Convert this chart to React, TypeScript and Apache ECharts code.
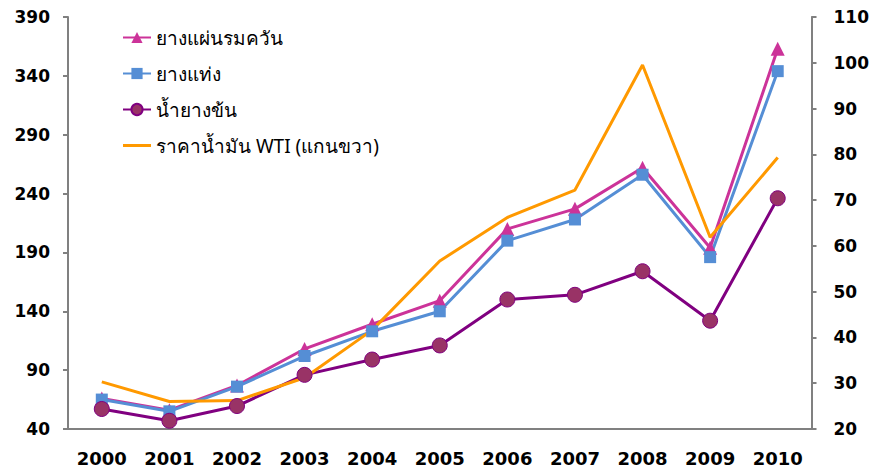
import React, { useEffect, useRef } from "react";
import * as echarts from "echarts";

const years = ["2000", "2001", "2002", "2003", "2004", "2005", "2006", "2007", "2008", "2009", "2010"];
const smokedSheet = [66, 56, 77, 108, 129, 149, 210, 227, 262, 194, 363];
const blockRubber = [65, 55, 76, 102, 123, 140, 200, 218, 256, 186, 344];
const concentratedLatex = [57, 47, 59.5, 86, 99, 111, 150, 154, 174, 132, 236];
const wtiOil = [30.3, 26, 26.2, 31.2, 41.6, 56.7, 66.2, 72.2, 99.5, 61.9, 79.3];

const names = ["ยางแผ่นรมควัน", "ยางแท่ง", "น้ำยางข้น", "ราคาน้ำมัน WTI (แกนขวา)"];

export default function App() {
  const ref = useRef<HTMLDivElement>(null);
  useEffect(() => {
    if (!ref.current) return;
    const chart = echarts.init(ref.current, undefined, { renderer: "svg" });
    const axisLabel = { color: "#000", fontSize: 17, fontWeight: "bold", fontFamily: "DejaVu Sans, sans-serif" };
    chart.setOption({
      animation: false,
      grid: { left: 68, right: 60, top: 17, bottom: 42 },
      legend: {
        orient: "vertical",
        left: 117,
        top: 23,
        itemGap: 17,
        itemWidth: 28,
        itemHeight: 14,
        textStyle: { fontSize: 19, color: "#000", fontFamily: "Noto Sans, sans-serif" },
        data: [
          { name: names[0] },
          { name: names[1] },
          { name: names[2] },
          { name: names[3], icon: "path://M0,0 L28,0 L28,3 L0,3 Z" },
        ],
      },
      xAxis: {
        type: "category",
        data: years,
        boundaryGap: true,
        axisLine: { lineStyle: { color: "#808080", width: 2 } },
        axisTick: { show: false },
        axisLabel: { ...axisLabel, fontSize: 18, margin: 20 },
      },
      yAxis: [
        {
          type: "value",
          min: 40,
          max: 390,
          interval: 50,
          splitLine: { show: false },
          axisLine: { show: true, lineStyle: { color: "#808080", width: 2 } },
          axisTick: { show: true, length: 5, lineStyle: { color: "#808080", width: 2 } },
          axisLabel: { ...axisLabel, margin: 18 },
        },
        {
          type: "value",
          min: 20,
          max: 110,
          interval: 10,
          splitLine: { show: false },
          axisLine: { show: true, lineStyle: { color: "#808080", width: 2 } },
          axisTick: { show: true, length: 5, lineStyle: { color: "#808080", width: 2 } },
          axisLabel: { ...axisLabel, margin: 22 },
        },
      ],
      series: [
        {
          name: names[0],
          type: "line",
          data: smokedSheet,
          yAxisIndex: 0,
          symbol: "triangle",
          symbolSize: 14,
          lineStyle: { color: "#CC3399", width: 3 },
          itemStyle: { color: "#CC3399" },
        },
        {
          name: names[1],
          type: "line",
          data: blockRubber,
          yAxisIndex: 0,
          symbol: "rect",
          symbolSize: 12,
          lineStyle: { color: "#558ED5", width: 3 },
          itemStyle: { color: "#558ED5" },
        },
        {
          name: names[2],
          type: "line",
          data: concentratedLatex,
          yAxisIndex: 0,
          symbol: "circle",
          symbolSize: 15,
          lineStyle: { color: "#800080", width: 3 },
          itemStyle: { color: "#993366", borderColor: "#800080", borderWidth: 1 },
        },
        {
          name: names[3],
          type: "line",
          data: wtiOil,
          yAxisIndex: 1,
          symbol: "none",
          lineStyle: { color: "#FF9900", width: 3 },
          itemStyle: { color: "#FF9900" },
        },
      ],
    });
    return () => chart.dispose();
  }, []);
  return <div ref={ref} style={{ position: "absolute", left: 0, top: 0, width: 872, height: 471 }} />;
}
